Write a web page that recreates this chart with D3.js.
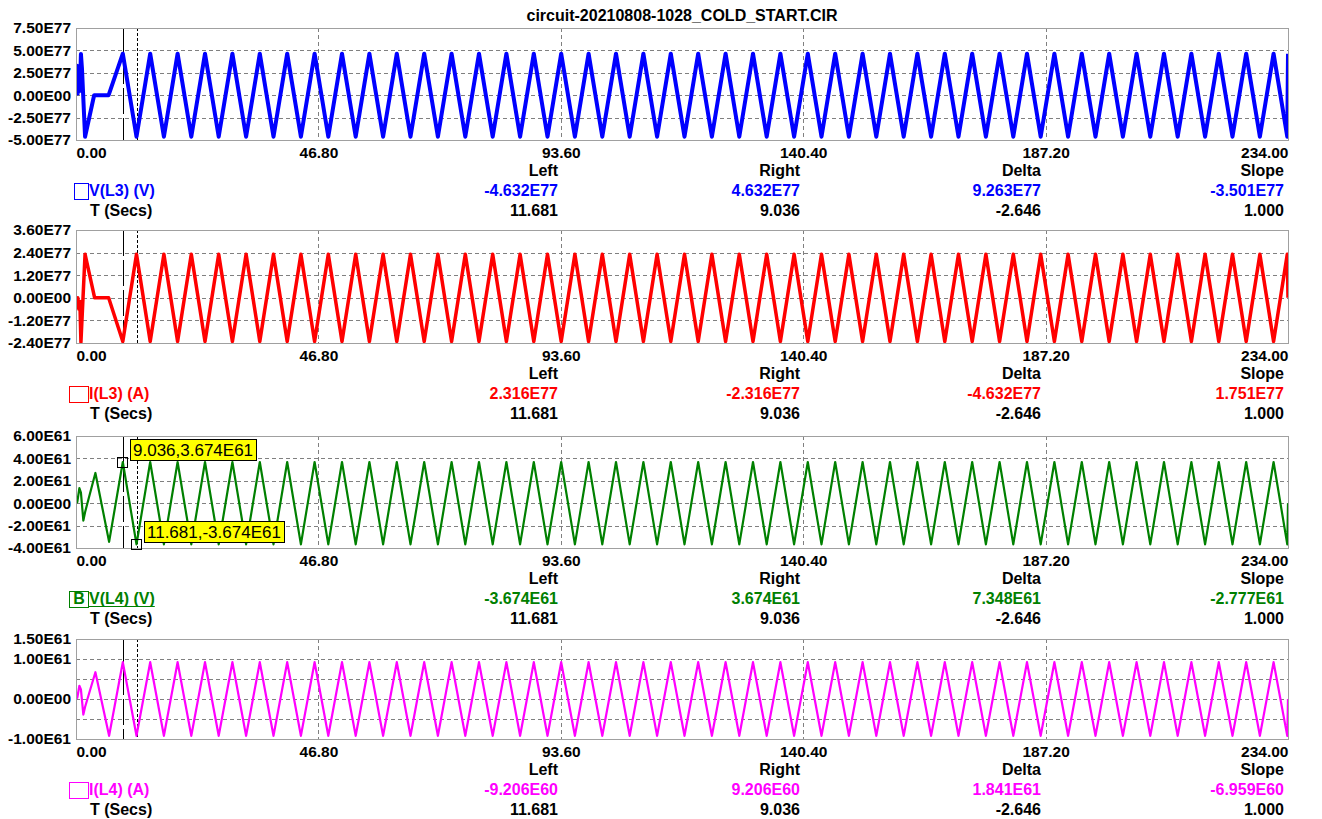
<!DOCTYPE html>
<html>
<head>
<meta charset="utf-8">
<script src="https://cdn.jsdelivr.net/npm/d3@7"></script>
<style>
  body { margin: 0; background: #ffffff; }
  svg { display: block; }
  text { font-family: "Liberation Sans", Arial, sans-serif; font-weight: bold; font-size: 15.5px; }
  text.title, text.readout { font-size: 16px; }
  text.tag { font-weight: normal; font-size: 17px; }
</style>
</head>
<body>
<svg id="chart" width="1322" height="819"></svg>
<script>
// ---------- data ----------
const chartTitle = "circuit-20210808-1028_COLD_START.CIR";

const xTicks = [0, 46.8, 93.6, 140.4, 187.2, 234];
const xTickLabels = ["0.00", "46.80", "93.60", "140.40", "187.20", "234.00"];
const xGrid = [46.8, 93.6, 140.4, 187.2];

// cursor positions (seconds)
const cursorLeftT = 11.681;
const cursorRightT = 9.036;

// turning points of the steady oscillation (seconds)
const cycleTimes = [
  9.036, 11.681, 14.326, 16.971, 19.616, 22.261, 24.906, 27.551, 30.196, 32.841,
  35.486, 38.131, 40.776, 43.421, 46.066, 48.711, 51.356, 54.001, 56.646, 59.291,
  61.936, 64.581, 67.226, 69.871, 72.516, 75.161, 77.806, 80.451, 83.096, 85.741,
  88.386, 91.031, 93.676, 96.321, 98.966, 101.611, 104.256, 106.901, 109.546, 112.191,
  114.836, 117.481, 120.126, 122.771, 125.416, 128.061, 130.706, 133.351, 135.996, 138.641,
  141.286, 143.931, 146.576, 149.221, 151.866, 154.511, 157.156, 159.801, 162.446, 165.091,
  167.736, 170.381, 173.026, 175.671, 178.316, 180.961, 183.606, 186.251, 188.896, 191.541,
  194.186, 196.831, 199.476, 202.121, 204.766, 207.411, 210.056, 212.701, 215.346, 217.991,
  220.636, 223.281, 225.926, 228.571, 231.216, 233.861
];
const endTime = 234;

// V(L3) (V)
const vL3StartTimes  = [0, 0.2, 0.35, 0.55, 0.75, 0.95, 1.15, 1.75, 3.5, 6.3];
const vL3StartValues = [0, 3.3e77, 0.2e77, 3.0e77, 0.5e77, 4.6e77, 3.0e77, -4.632e77, 0, 0];
const vL3CycleValues = [
  4.632e77, -4.632e77, 4.632e77, -4.632e77, 4.632e77, -4.632e77, 4.632e77, -4.632e77, 4.632e77, -4.632e77,
  4.632e77, -4.632e77, 4.632e77, -4.632e77, 4.632e77, -4.632e77, 4.632e77, -4.632e77, 4.632e77, -4.632e77,
  4.632e77, -4.632e77, 4.632e77, -4.632e77, 4.632e77, -4.632e77, 4.632e77, -4.632e77, 4.632e77, -4.632e77,
  4.632e77, -4.632e77, 4.632e77, -4.632e77, 4.632e77, -4.632e77, 4.632e77, -4.632e77, 4.632e77, -4.632e77,
  4.632e77, -4.632e77, 4.632e77, -4.632e77, 4.632e77, -4.632e77, 4.632e77, -4.632e77, 4.632e77, -4.632e77,
  4.632e77, -4.632e77, 4.632e77, -4.632e77, 4.632e77, -4.632e77, 4.632e77, -4.632e77, 4.632e77, -4.632e77,
  4.632e77, -4.632e77, 4.632e77, -4.632e77, 4.632e77, -4.632e77, 4.632e77, -4.632e77, 4.632e77, -4.632e77,
  4.632e77, -4.632e77, 4.632e77, -4.632e77, 4.632e77, -4.632e77, 4.632e77, -4.632e77, 4.632e77, -4.632e77,
  4.632e77, -4.632e77, 4.632e77, -4.632e77, 4.632e77, -4.632e77
];
const vL3EndValue = 4.632e77;
const vL3YTicks = [-5e77, -2.5e77, 0, 2.5e77, 5e77, 7.5e77];
const vL3YGrid = [-2.5e77, 0, 2.5e77, 5e77];
const vL3Stats = ["-4.632E77", "4.632E77", "9.263E77", "-3.501E77"];

// I(L3) (A)
const iL3StartTimes  = [0, 0.2, 0.35, 0.55, 0.75, 0.95, 1.75, 3.6, 6.3];
const iL3StartValues = [0, -0.5e77, 0, -0.6e77, -0.2e77, -2.35e77, 2.316e77, 0, 0];
const iL3CycleValues = [
  -2.316e77, 2.316e77, -2.316e77, 2.316e77, -2.316e77, 2.316e77, -2.316e77, 2.316e77, -2.316e77, 2.316e77,
  -2.316e77, 2.316e77, -2.316e77, 2.316e77, -2.316e77, 2.316e77, -2.316e77, 2.316e77, -2.316e77, 2.316e77,
  -2.316e77, 2.316e77, -2.316e77, 2.316e77, -2.316e77, 2.316e77, -2.316e77, 2.316e77, -2.316e77, 2.316e77,
  -2.316e77, 2.316e77, -2.316e77, 2.316e77, -2.316e77, 2.316e77, -2.316e77, 2.316e77, -2.316e77, 2.316e77,
  -2.316e77, 2.316e77, -2.316e77, 2.316e77, -2.316e77, 2.316e77, -2.316e77, 2.316e77, -2.316e77, 2.316e77,
  -2.316e77, 2.316e77, -2.316e77, 2.316e77, -2.316e77, 2.316e77, -2.316e77, 2.316e77, -2.316e77, 2.316e77,
  -2.316e77, 2.316e77, -2.316e77, 2.316e77, -2.316e77, 2.316e77, -2.316e77, 2.316e77, -2.316e77, 2.316e77,
  -2.316e77, 2.316e77, -2.316e77, 2.316e77, -2.316e77, 2.316e77, -2.316e77, 2.316e77, -2.316e77, 2.316e77,
  -2.316e77, 2.316e77, -2.316e77, 2.316e77, -2.316e77, 2.316e77
];
const iL3EndValue = 0;
const iL3YTicks = [-2.4e77, -1.2e77, 0, 1.2e77, 2.4e77, 3.6e77];
const iL3YGrid = [-1.2e77, 0, 1.2e77, 2.4e77];
const iL3Stats = ["2.316E77", "-2.316E77", "-4.632E77", "1.751E77"];

// V(L4) (V)
const vL4StartTimes  = [0, 0.25, 0.65, 0.95, 1.42, 1.75, 3.746, 6.391];
const vL4StartValues = [0, 0.1e61, 1.35e61, 0.95e61, -1.55e61, -0.8e61, 2.7e61, -3.45e61];
const vL4CycleValues = [
  3.674e61, -3.674e61, 3.674e61, -3.674e61, 3.674e61, -3.674e61, 3.674e61, -3.674e61, 3.674e61, -3.674e61,
  3.674e61, -3.674e61, 3.674e61, -3.674e61, 3.674e61, -3.674e61, 3.674e61, -3.674e61, 3.674e61, -3.674e61,
  3.674e61, -3.674e61, 3.674e61, -3.674e61, 3.674e61, -3.674e61, 3.674e61, -3.674e61, 3.674e61, -3.674e61,
  3.674e61, -3.674e61, 3.674e61, -3.674e61, 3.674e61, -3.674e61, 3.674e61, -3.674e61, 3.674e61, -3.674e61,
  3.674e61, -3.674e61, 3.674e61, -3.674e61, 3.674e61, -3.674e61, 3.674e61, -3.674e61, 3.674e61, -3.674e61,
  3.674e61, -3.674e61, 3.674e61, -3.674e61, 3.674e61, -3.674e61, 3.674e61, -3.674e61, 3.674e61, -3.674e61,
  3.674e61, -3.674e61, 3.674e61, -3.674e61, 3.674e61, -3.674e61, 3.674e61, -3.674e61, 3.674e61, -3.674e61,
  3.674e61, -3.674e61, 3.674e61, -3.674e61, 3.674e61, -3.674e61, 3.674e61, -3.674e61, 3.674e61, -3.674e61,
  3.674e61, -3.674e61, 3.674e61, -3.674e61, 3.674e61, -3.674e61
];
const vL4EndValue = 0;
const vL4YTicks = [-4e61, -2e61, 0, 2e61, 4e61, 6e61];
const vL4YGrid = [-2e61, 0, 2e61, 4e61];
const vL4Stats = ["-3.674E61", "3.674E61", "7.348E61", "-2.777E61"];

// I(L4) (A)
const iL4StartTimes  = [0, 0.25, 0.65, 0.95, 1.42, 1.75, 3.746, 6.391];
const iL4StartValues = [0, 0.03e61, 0.33e61, 0.24e61, -0.39e61, -0.2e61, 0.67e61, -0.92e61];
const iL4CycleValues = [
  9.206e60, -9.206e60, 9.206e60, -9.206e60, 9.206e60, -9.206e60, 9.206e60, -9.206e60, 9.206e60, -9.206e60,
  9.206e60, -9.206e60, 9.206e60, -9.206e60, 9.206e60, -9.206e60, 9.206e60, -9.206e60, 9.206e60, -9.206e60,
  9.206e60, -9.206e60, 9.206e60, -9.206e60, 9.206e60, -9.206e60, 9.206e60, -9.206e60, 9.206e60, -9.206e60,
  9.206e60, -9.206e60, 9.206e60, -9.206e60, 9.206e60, -9.206e60, 9.206e60, -9.206e60, 9.206e60, -9.206e60,
  9.206e60, -9.206e60, 9.206e60, -9.206e60, 9.206e60, -9.206e60, 9.206e60, -9.206e60, 9.206e60, -9.206e60,
  9.206e60, -9.206e60, 9.206e60, -9.206e60, 9.206e60, -9.206e60, 9.206e60, -9.206e60, 9.206e60, -9.206e60,
  9.206e60, -9.206e60, 9.206e60, -9.206e60, 9.206e60, -9.206e60, 9.206e60, -9.206e60, 9.206e60, -9.206e60,
  9.206e60, -9.206e60, 9.206e60, -9.206e60, 9.206e60, -9.206e60, 9.206e60, -9.206e60, 9.206e60, -9.206e60,
  9.206e60, -9.206e60, 9.206e60, -9.206e60, 9.206e60, -9.206e60
];
const iL4EndValue = 0;
const iL4YTicks = [-1e61, 0, 1e61, 1.5e61];
const iL4YGrid = [-0.5e61, 0, 0.5e61, 1e61];
const iL4Stats = ["-9.206E60", "9.206E60", "1.841E61", "-6.959E60"];

const statHeaders = ["Left", "Right", "Delta", "Slope"];
const timeStats = ["11.681", "9.036", "-2.646", "1.000"];
const timeLabel = "T (Secs)";

// tagged points on V(L4): [time, value]
const vL4Tags = [[9.036, 3.674e61], [11.681, -3.674e61]];
const vL4TagLabels = ["9.036,3.674E61", "11.681,-3.674E61"];

// ---------- layout ----------
const W = 1322, H = 819;
const plotLeft = 76, plotRight = 1288;
const statRight = [558, 800, 1041, 1284];

const panels = [
  { key: "vl3", label: "V(L3) (V)", color: "#0000ff", lineW: 4, top: 28, bottom: 140,
    times: vL3StartTimes.concat(cycleTimes, [endTime]),
    values: vL3StartValues.concat(vL3CycleValues, [vL3EndValue]),
    domain: [-5e77, 7.5e77], ticks: vL3YTicks, grid: vL3YGrid, stats: vL3Stats,
    box: { x: 74, w: 14, mark: "" } },
  { key: "il3", label: "I(L3) (A)", color: "#ff0000", lineW: 3.5, top: 230, bottom: 343,
    times: iL3StartTimes.concat(cycleTimes, [endTime]),
    values: iL3StartValues.concat(iL3CycleValues, [iL3EndValue]),
    domain: [-2.4e77, 3.6e77], ticks: iL3YTicks, grid: iL3YGrid, stats: iL3Stats,
    box: { x: 69, w: 19, mark: "" } },
  { key: "vl4", label: "V(L4) (V)", color: "#008000", lineW: 2.2, top: 436, bottom: 548,
    times: vL4StartTimes.concat(cycleTimes, [endTime]),
    values: vL4StartValues.concat(vL4CycleValues, [vL4EndValue]),
    domain: [-4e61, 6e61], ticks: vL4YTicks, grid: vL4YGrid, stats: vL4Stats,
    box: { x: 69, w: 19, mark: "B" }, underline: true },
  { key: "il4", label: "I(L4) (A)", color: "#ff00ff", lineW: 2.2, top: 639, bottom: 739,
    times: iL4StartTimes.concat(cycleTimes, [endTime]),
    values: iL4StartValues.concat(iL4CycleValues, [iL4EndValue]),
    domain: [-1e61, 1.5e61], ticks: iL4YTicks, grid: iL4YGrid, stats: iL4Stats,
    box: { x: 69, w: 19, mark: "" } }
];

function sci(v) {
  if (v === 0) return "0.00E00";
  const e = Math.floor(Math.log10(Math.abs(v)) + 1e-9);
  const m = v / Math.pow(10, e);
  return m.toFixed(2) + "E" + String(e).padStart(2, "0");
}

const svg = d3.select("#chart");
svg.append("rect").attr("width", W).attr("height", H).attr("fill", "#ffffff");

svg.append("text").attr("class", "title")
  .attr("x", (plotLeft + plotRight) / 2).attr("y", 21)
  .attr("text-anchor", "middle").attr("fill", "#000")
  .text(chartTitle);

const x = d3.scaleLinear().domain([0, 234]).range([plotLeft, plotRight]);

panels.forEach(p => {
  const g = svg.append("g").attr("class", "panel-" + p.key);
  const y = d3.scaleLinear().domain(p.domain).range([p.bottom, p.top]);

  const clipId = "clip-" + p.key;
  g.append("clipPath").attr("id", clipId)
    .append("rect").attr("x", plotLeft).attr("y", p.top)
    .attr("width", plotRight - plotLeft).attr("height", p.bottom - p.top);

  // grid
  g.selectAll(".hgrid").data(p.grid).join("line").attr("class", "hgrid")
    .attr("x1", plotLeft).attr("x2", plotRight)
    .attr("y1", d => Math.round(y(d)) + 0.5).attr("y2", d => Math.round(y(d)) + 0.5)
    .attr("stroke", "#808080").attr("stroke-width", 1).attr("stroke-dasharray", "4,3");
  g.selectAll(".vgrid").data(xGrid).join("line").attr("class", "vgrid")
    .attr("x1", d => Math.round(x(d)) + 0.5).attr("x2", d => Math.round(x(d)) + 0.5)
    .attr("y1", p.top).attr("y2", p.bottom)
    .attr("stroke", "#808080").attr("stroke-width", 1).attr("stroke-dasharray", "4,3");

  // cursors
  g.append("line")
    .attr("x1", Math.round(x(cursorRightT)) + 0.5).attr("x2", Math.round(x(cursorRightT)) + 0.5)
    .attr("y1", p.top).attr("y2", p.bottom)
    .attr("stroke", "#000").attr("stroke-width", 1).attr("stroke-dasharray", "26,4");
  g.append("line")
    .attr("x1", Math.round(x(cursorLeftT)) + 0.5).attr("x2", Math.round(x(cursorLeftT)) + 0.5)
    .attr("y1", p.top).attr("y2", p.bottom)
    .attr("stroke", "#000").attr("stroke-width", 1).attr("stroke-dasharray", "3,2");

  // waveform
  const pts = p.times.map((t, i) => [t, p.values[i]]);
  const line = d3.line().x(d => x(d[0])).y(d => y(d[1]));
  g.append("path").datum(pts)
    .attr("clip-path", "url(#" + clipId + ")")
    .attr("d", line)
    .attr("fill", "none").attr("stroke", p.color)
    .attr("stroke-width", p.lineW).attr("stroke-linejoin", "round");

  // frame
  g.append("rect")
    .attr("x", plotLeft + 0.5).attr("y", p.top + 0.5)
    .attr("width", plotRight - plotLeft).attr("height", p.bottom - p.top)
    .attr("fill", "none").attr("stroke", "#a0a0a0").attr("stroke-width", 1);

  // y axis
  const yAxis = d3.axisLeft(y).tickValues(p.ticks).tickFormat(sci).tickSize(0).tickPadding(5);
  const ya = g.append("g").attr("transform", `translate(${plotLeft},0)`).call(yAxis);
  ya.select(".domain").remove();
  ya.attr("font-size", null).attr("font-family", null);
  ya.selectAll("text").attr("fill", "#000");

  // x axis
  const xAxis = d3.axisBottom(x).tickValues(xTicks).tickFormat((d, i) => xTickLabels[i]).tickSize(0).tickPadding(7);
  const xa = g.append("g").attr("transform", `translate(0,${p.bottom})`).call(xAxis);
  xa.select(".domain").remove();
  xa.attr("font-size", null).attr("font-family", null);
  xa.selectAll("text").attr("fill", "#000")
    .attr("text-anchor", (d, i) => i === 0 ? "start" : (i === xTicks.length - 1 ? "end" : "middle"));

  // readout block
  const hdrY = p.bottom + 36, serY = p.bottom + 56, tY = p.bottom + 76;
  statHeaders.forEach((h, i) => {
    g.append("text").attr("class", "readout").attr("x", statRight[i]).attr("y", hdrY)
      .attr("text-anchor", "end").attr("fill", "#000").text(h);
    g.append("text").attr("class", "readout").attr("x", statRight[i]).attr("y", serY)
      .attr("text-anchor", "end").attr("fill", p.color).text(p.stats[i]);
    g.append("text").attr("class", "readout").attr("x", statRight[i]).attr("y", tY)
      .attr("text-anchor", "end").attr("fill", "#000").text(timeStats[i]);
  });
  const rowC = serY - 5.5;
  g.append("rect").attr("x", p.box.x + 0.5).attr("y", Math.round(rowC - 8) + 0.5)
    .attr("width", p.box.w).attr("height", 16)
    .attr("fill", "none").attr("stroke", p.color).attr("stroke-width", 1);
  if (p.box.mark) {
    g.append("text").attr("class", "readout").attr("x", p.box.x + p.box.w / 2 + 0.5).attr("y", serY)
      .attr("text-anchor", "middle").attr("fill", p.color).text(p.box.mark);
  }
  const lab = g.append("text").attr("class", "readout").attr("x", 89).attr("y", serY)
    .attr("fill", p.color).text(p.label);
  if (p.underline) {
    const len = lab.node().getComputedTextLength();
    g.append("line").attr("x1", 89).attr("x2", 89 + len)
      .attr("y1", serY + 2.5).attr("y2", serY + 2.5)
      .attr("stroke", p.color).attr("stroke-width", 1);
  }
  g.append("text").attr("class", "readout").attr("x", 90).attr("y", tY)
    .attr("fill", "#000").text(timeLabel);

  // tagged points
  if (p.key === "vl4") {
    vL4Tags.forEach((d, i) => {
      const px = x(d[0]), py = y(d[1]);
      g.append("rect").attr("x", Math.round(px - 5.5) + 0.5).attr("y", Math.round(py - 5.5) + 0.5)
        .attr("width", 10).attr("height", 10)
        .attr("fill", "none").attr("stroke", "#000").attr("stroke-width", 1);
      const bx = Math.round(px + 7), bBottom = Math.round(py - 2);
      const tg = g.append("g");
      const bg = tg.append("rect");
      const t = tg.append("text").attr("class", "tag").attr("x", bx + 3).attr("y", bBottom - 4)
        .attr("fill", "#000").text(vL4TagLabels[i]);
      const tw = t.node().getComputedTextLength();
      bg.attr("x", bx + 0.5).attr("y", bBottom - 21 + 0.5)
        .attr("width", Math.round(tw + 6)).attr("height", 21)
        .attr("fill", "#ffff00").attr("stroke", "#000").attr("stroke-width", 1);
    });
  }
});
</script>
</body>
</html>
